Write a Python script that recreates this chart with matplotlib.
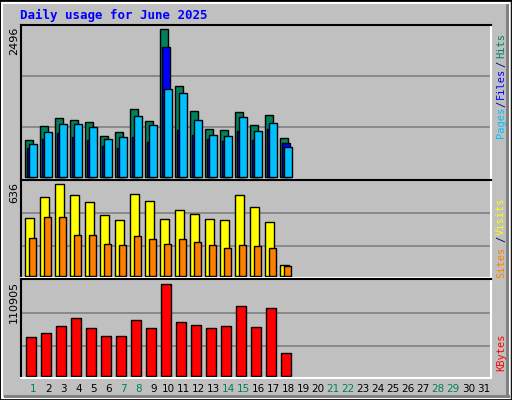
import matplotlib
matplotlib.use("Agg")
import matplotlib.pyplot as plt
from matplotlib.patches import Rectangle

days = list(range(1, 19))
hits   = [624, 855, 995, 956, 922, 686, 754, 1147, 939, 2496, 1530, 1108, 804, 787, 1091, 872, 1040, 653]
files  = [484, 635, 737, 674, 619, 518, 484, 669, 585, 2187, 787, 703, 635, 602, 771, 619, 804, 568]
pages  = [551, 754, 889, 889, 838, 635, 669, 1024, 872, 1479, 1411, 956, 703, 686, 1007, 771, 906, 501]
visits = [400, 546, 636, 560, 511, 421, 386, 567, 518, 393, 456, 428, 393, 386, 560, 476, 372, 74]
sites  = [261, 407, 407, 282, 282, 220, 213, 275, 255, 220, 255, 234, 213, 192, 213, 206, 192, 67]
kbytes = [46800, 51640, 60100, 69780, 57690, 48010, 48010, 67360, 57690, 110905, 64940, 61320,
          57690, 60100, 84300, 58900, 81880, 27450]
day_labels = [str(i) for i in range(1, 32)]
weekend = {1, 7, 8, 14, 15, 21, 22, 28, 29}

W, H = 512, 400
fig = plt.figure(figsize=(W/100, H/100), dpi=100)
fig.patch.set_facecolor('#C0C0C0')
# outer frame
fig.patches.append(Rectangle((0, 0), 1, 1, transform=fig.transFigure, fill=False,
                             edgecolor='black', lw=2))
fig.patches.append(Rectangle((2/W, 2/H), 1-5/W, 1-5/H, transform=fig.transFigure, fill=False,
                             edgecolor='white', lw=1.5))
fig.patches.append(Rectangle((4/W, 2/H), 1-6/W, 3/H, transform=fig.transFigure,
                             facecolor='#808080', edgecolor='none'))
fig.patches.append(Rectangle((1-6/W, 2/H), 3/W, 1-6/H, transform=fig.transFigure,
                             facecolor='#808080', edgecolor='none'))

def px_axes(x0, y0, x1, y1):
    return fig.add_axes([x0/W, 1-y1/H, (x1-x0)/W, (y1-y0)/H])

X0 = 1 - 4.3/15
XL = (X0, X0 + 470/15)

def style(ax, ylim, grids):
    ax.set_facecolor('#C0C0C0')
    ax.set_xlim(*XL)
    ax.set_ylim(*ylim)
    for g in grids:
        ax.axhline(g, color='#808080', lw=1.2, zorder=0)
    ax.set_xticks([]); ax.set_yticks([])
    ax.spines['top'].set_color('black'); ax.spines['left'].set_color('black')
    ax.spines['right'].set_color('white'); ax.spines['bottom'].set_color('white')
    for s in ax.spines.values():
        s.set_linewidth(1.5)

kw = dict(align='edge', edgecolor='black', linewidth=1)

s1 = 2496/148
ax1 = px_axes(21, 25, 491, 180)
style(ax1, (-3*s1, 152*s1), [50*s1, 101*s1])
ax1.bar(days, hits, width=8/15, color='#00805C', **kw)
ax1.bar([d + 2/15 for d in days], files, width=8/15, color='#0000FF', **kw)
ax1.bar([d + 4/15 for d in days], pages, width=7.5/15, color='#00C0FF', **kw)

s2 = 636/91.7
ax2 = px_axes(21, 180, 491, 278)
style(ax2, (-2*s2, 96*s2), [29.7*s2, 62.7*s2])
ax2.bar(days, visits, width=8.3/15, color='#FFFF00', **kw)
ax2.bar([d + 4/15 for d in days], sites, width=7/15, color='#FF8000', **kw)

s3 = 110905/91.7
ax3 = px_axes(21, 279, 491, 378)
style(ax3, (-2*s3, 97*s3), [29.7*s3, 62.7*s3])
ax3.bar([d + 1/15 for d in days], kbytes, width=10/15, color='#FF0000', **kw)

def T(x, y, s, **k):
    fig.text(x/W, 1-y/H, s, **k)

T(20, 15, 'Daily usage for June 2025', color='#0000FF', fontsize=9, fontweight='bold',
  family='DejaVu Sans Mono', va='center', ha='left')
for y, s in [(27, str(max(hits))), (182, str(max(visits))), (281, str(max(kbytes)))]:
    T(14, y, s, rotation=90, fontsize=8, va='top', ha='center', color='black')

for y, s, c in [(122, 'Pages', '#00C0FF'), (104, '/', '#000080'), (83, 'Files', '#0000FF'),
                (64, '/', '#000080'), (45, 'Hits', '#00805C'),
                (262, 'Sites', '#FF8000'), (239, '/', '#000080'), (216, 'Visits', '#FFFF00'),
                (352, 'KBytes', '#FF0000')]:
    T(501, y, s, rotation=90, fontsize=7.5, va='center', ha='center', color=c,
      family='DejaVu Sans Mono')

for i, lab in enumerate(day_labels):
    d = i + 1
    T(33.3 + 15*(d-1), 389, lab, fontsize=7.5, ha='center', va='center',
      color='#00805C' if d in weekend else 'black')

fig.savefig('out.png', dpi=100, facecolor=fig.get_facecolor())
